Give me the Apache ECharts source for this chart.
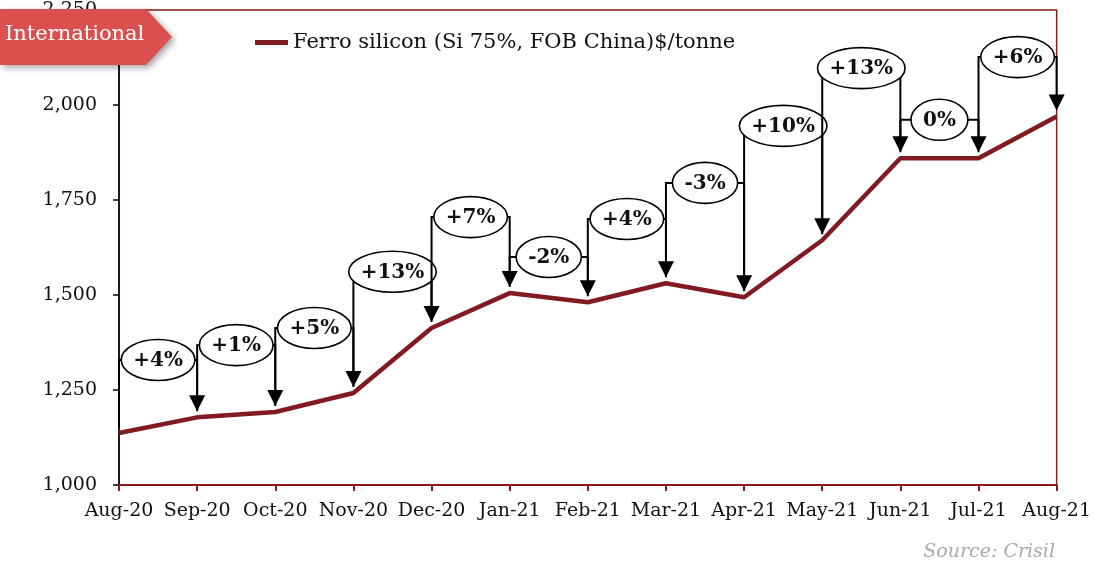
<!DOCTYPE html>
<html>
<head>
<meta charset="utf-8">
<title>Ferro silicon price</title>
<script src="https://cdn.jsdelivr.net/npm/echarts@6/dist/echarts.min.js"></script>
<style>
  html, body { margin: 0; padding: 0; background: #fff; }
  #chart { width: 1094px; height: 571px; }
</style>
</head>
<body>
<div id="chart"></div>
<script>
// monthly ferro silicon price, $/tonne
const months = ['Aug-20', 'Sep-20', 'Oct-20', 'Nov-20', 'Dec-20', 'Jan-21', 'Feb-21',
  'Mar-21', 'Apr-21', 'May-21', 'Jun-21', 'Jul-21', 'Aug-21'];
const prices = [1137, 1178, 1192, 1242, 1413, 1505, 1481, 1531, 1494, 1644, 1860, 1860, 1970];

// month-on-month change callouts (one per month from Sep-20)
const changeLabels = ['+4%', '+1%', '+5%', '+13%', '+7%', '-2%', '+4%', '-3%', '+10%', '+13%', '0%', '+6%'];
// height (in $/tonne) where each callout bracket sits
const calloutLevels = [1329, 1368, 1413, 1561, 1705, 1600, 1700, 1795, 1945, 2097, 1961, 2126];

const yTicks = { min: 1000, max: 2250, step: 250 };

const seriesName = 'Ferro silicon (Si 75%, FOB China)$/tonne';
const lineColor = '#821a22';
const serif = '"DejaVu Serif", Georgia, serif';

// measure text for the ellipse size
const measureCtx = document.createElement('canvas').getContext('2d');
function textWidth (txt, font) {
  measureCtx.font = font;
  return measureCtx.measureText(txt).width;
}

const calloutData = changeLabels.map(function (lbl, k) {
  return [k + 1, prices[k], prices[k + 1], calloutLevels[k], lbl];
});

function renderCallout (params, api) {
  const i = api.value(0);
  const p0 = api.coord([i - 1, api.value(1)]);
  const p1 = api.coord([i, api.value(2)]);
  const lv = api.coord([i, api.value(3)])[1];
  const lbl = changeLabels[i - 1];
  const font = 'bold 20px ' + serif;
  const tw = textWidth(lbl, font);
  const tipY = p1[1] - 6;
  const headH = 16;
  const cx = (p0[0] + p1[0]) / 2;
  return {
    type: 'group',
    children: [
      {
        type: 'polyline',
        shape: { points: [[p0[0], p0[1] - 6], [p0[0], lv], [p1[0], lv], [p1[0], tipY - headH + 1]] },
        style: { stroke: '#000', lineWidth: 2, fill: null }
      },
      {
        type: 'polygon',
        shape: { points: [[p1[0] - 8, tipY - headH], [p1[0] + 8, tipY - headH], [p1[0], tipY]] },
        style: { fill: '#000' }
      },
      {
        type: 'ellipse',
        shape: { cx: cx, cy: lv, rx: tw / 2 + 12, ry: 20.5 },
        style: { fill: '#fff', stroke: '#000', lineWidth: 1.6 }
      },
      {
        type: 'text',
        x: cx,
        y: lv + 1,
        style: { text: lbl, font: font, fill: '#111', align: 'center', verticalAlign: 'middle' }
      }
    ]
  };
}

const chart = echarts.init(document.getElementById('chart'));

const option = {
  animation: false,
  backgroundColor: '#fff',
  grid: {
    left: 119, right: 37, top: 10, bottom: 86,
    show: true, borderColor: '#8b1a1a', borderWidth: 1.5, backgroundColor: 'transparent'
  },
  legend: {
    data: [seriesName],
    left: 250, top: 27,
    icon: 'rect', itemWidth: 33, itemHeight: 5, itemGap: 10,
    textStyle: { fontFamily: serif, fontSize: 21, color: '#111' }
  },
  xAxis: {
    type: 'category',
    data: months,
    boundaryGap: false,
    axisLine: { lineStyle: { color: '#8b1a1a', width: 2 } },
    axisTick: { inside: false, length: 6, lineStyle: { color: '#8b1a1a', width: 2 } },
    axisLabel: { interval: 0, margin: 17, fontFamily: serif, fontSize: 19, color: '#111' },
    splitLine: { show: false }
  },
  yAxis: {
    type: 'value',
    min: yTicks.min, max: yTicks.max, interval: yTicks.step,
    axisLine: { show: true, lineStyle: { color: '#000', width: 1.5 } },
    axisTick: { show: true, length: 6, lineStyle: { color: '#000', width: 1.5 } },
    axisLabel: {
      margin: 22, fontFamily: serif, fontSize: 19, color: '#111',
      formatter: function (v) { return v.toLocaleString('en-US'); }
    },
    splitLine: { show: false }
  },
  series: [
    {
      name: seriesName,
      type: 'line',
      data: prices,
      symbol: 'none',
      lineStyle: { color: lineColor, width: 4.5 },
      itemStyle: { color: lineColor },
      z: 3
    },
    {
      type: 'custom',
      data: calloutData,
      renderItem: renderCallout,
      clip: false,
      silent: true,
      z: 4
    }
  ],
  graphic: [
    {
      type: 'polygon',
      z: 100,
      shape: { points: [[0, 9], [146, 9], [172, 37], [146, 65], [0, 65]] },
      style: { fill: '#db4f4f', shadowBlur: 6, shadowOffsetX: 3, shadowOffsetY: 3, shadowColor: 'rgba(0,0,0,0.35)' }
    },
    {
      type: 'text',
      z: 101,
      left: 5, top: 24,
      style: { text: 'International', font: '21px ' + serif, fill: '#fff' }
    },
    {
      type: 'text',
      right: 39, bottom: 9,
      style: { text: 'Source: Crisil', font: 'italic 19px ' + serif, fill: '#aaa' }
    }
  ]
};

chart.setOption(option);
</script>
</body>
</html>
